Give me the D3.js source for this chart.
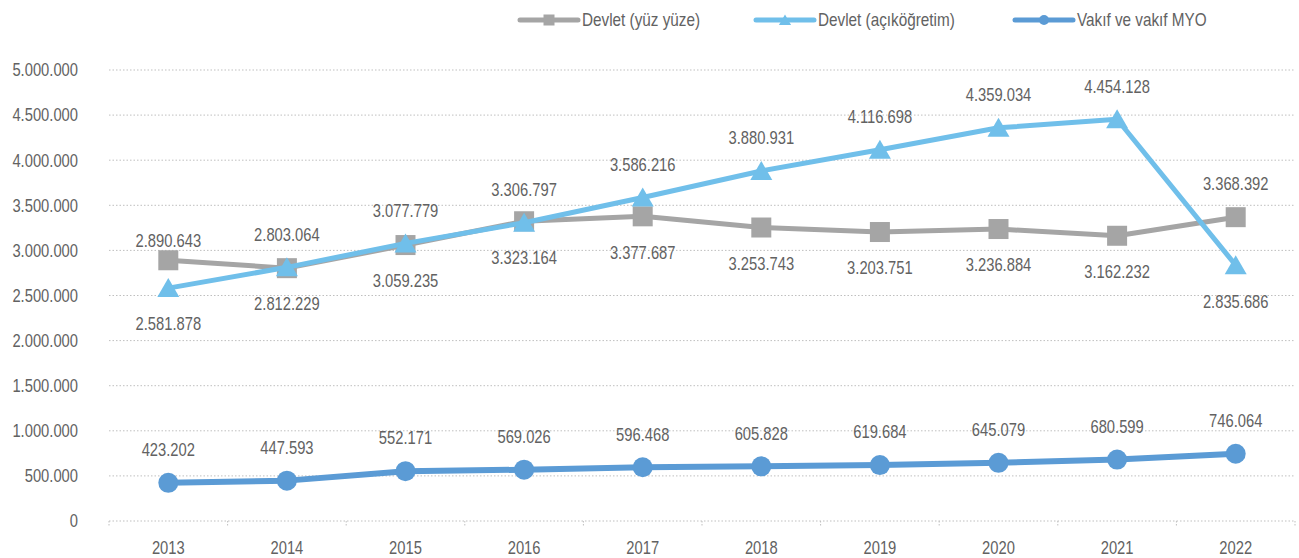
<!DOCTYPE html>
<html>
<head>
<meta charset="utf-8">
<script src="https://cdn.jsdelivr.net/npm/d3@7"></script>
<style>
  body { margin: 0; background: #fff; }
  svg text { font-family: "Liberation Sans", Arial, sans-serif; fill: #626262; }
</style>
</head>
<body>
<div id="chart"></div>
<script>
// données
var years = ["2013", "2014", "2015", "2016", "2017", "2018", "2019", "2020", "2021", "2022"];
var yuzYuze = [2890643, 2803064, 3059235, 3323164, 3377687, 3253743, 3203751, 3236884, 3162232, 3368392];
var acikogretim = [2581878, 2812229, 3077779, 3306797, 3586216, 3880931, 4116698, 4359034, 4454128, 2835686];
var vakif = [423202, 447593, 552171, 569026, 596468, 605828, 619684, 645079, 680599, 746064];
var yTicks = [0, 500000, 1000000, 1500000, 2000000, 2500000, 3000000, 3500000, 4000000, 4500000, 5000000];

// placement des étiquettes (t = au-dessus, n = au-dessus proche, b = en dessous)
var sideYuz = ["n", "t", "b", "b", "b", "b", "b", "b", "b", "t"];
var sideAcik = ["b", "b", "t", "t", "t", "t", "t", "t", "t", "b"];
var sideVakif = ["t", "t", "t", "t", "t", "t", "t", "t", "t", "t"];

var series = [
  { name: "Devlet (yüz yüze)", values: yuzYuze, side: sideYuz, color: "#a5a5a5", width: 5, marker: "square", lx: 520 },
  { name: "Devlet (açıköğretim)", values: acikogretim, side: sideAcik, color: "#70bfea", width: 5, marker: "triangle", lx: 756 },
  { name: "Vakıf ve vakıf MYO", values: vakif, side: sideVakif, color: "#5b9bd5", width: 6, marker: "circle", lx: 1015 }
];

var W = 1299, H = 558;
var NARROW = 0.82; // police étroite simulée
var FS = 18;
var svg = d3.select("#chart").append("svg")
    .attr("width", W)
    .attr("height", H);

var x = d3.scaleBand().domain(years).range([109, 1295]);
var y = d3.scaleLinear().domain([0, 5000000]).range([521, 70]);

var fmt = function(v) { return d3.format(",")(v).replace(/,/g, "."); };

// texte condensé : translate puis scale horizontal
function narrowText(sel, fx, fy, size, anchor) {
  return sel.append("text")
    .attr("transform", function(d, i) { return "translate(" + fx(d, i) + "," + fy(d, i) + ") scale(" + NARROW + ",1)"; })
    .attr("dy", "0.35em")
    .attr("text-anchor", anchor)
    .style("font-size", size + "px");
}

// grille pointillée
svg.append("g").selectAll("line")
    .data(yTicks)
    .enter().append("line")
    .attr("x1", 109).attr("x2", 1295)
    .attr("y1", function(d) { return y(d); })
    .attr("y2", function(d) { return y(d); })
    .attr("stroke", "#bfbfbf")
    .attr("stroke-width", 1)
    .attr("stroke-dasharray", "1.5,2");

// étiquettes de l'axe Y
narrowText(svg.append("g").selectAll("g").data(yTicks).enter(),
    function() { return 78; }, function(d) { return y(d); }, FS, "end")
  .text(function(d) { return fmt(d); });

// graduations de l'axe X
var bounds = years.map(function(d) { return x(d); }).concat([x.range()[1]]);
svg.append("g").selectAll("line")
    .data(bounds)
    .enter().append("line")
    .attr("x1", function(d) { return d; }).attr("x2", function(d) { return d; })
    .attr("y1", 521).attr("y2", 527)
    .attr("stroke", "#bfbfbf")
    .attr("stroke-dasharray", "1.5,1.5");

narrowText(svg.append("g").selectAll("g").data(years).enter(),
    function(d) { return x(d) + x.bandwidth() / 2; }, function() { return 548; }, FS, "middle")
  .text(function(d) { return d; });

var cx = function(i) { return x(years[i]) + x.bandwidth() / 2; };

function drawMarker(g, type, px, py, color, big) {
  if (type === "square") {
    var s = big ? 20 : 11;
    g.append("rect").attr("x", px - s / 2).attr("y", py - s / 2)
      .attr("width", s).attr("height", s).attr("fill", color);
  } else if (type === "triangle") {
    var t = big ? 20 : 11;
    g.append("path")
      .attr("d", "M" + px + "," + (py - t * 0.5) + "L" + (px + t * 0.55) + "," + (py + t * 0.45) + "L" + (px - t * 0.55) + "," + (py + t * 0.45) + "Z")
      .attr("fill", color);
  } else {
    g.append("circle").attr("cx", px).attr("cy", py).attr("r", big ? 10 : 5).attr("fill", color);
  }
}

var line = d3.line()
    .x(function(d, i) { return cx(i); })
    .y(function(d) { return y(d); });

series.forEach(function(s) {
  var g = svg.append("g");
  g.append("path")
    .attr("d", line(s.values))
    .attr("fill", "none")
    .attr("stroke", s.color)
    .attr("stroke-width", s.width)
    .attr("stroke-linejoin", "round")
    .attr("stroke-linecap", "round");
  s.values.forEach(function(v, i) {
    drawMarker(g, s.marker, cx(i), y(v), s.color, true);
  });
});

// étiquettes de données par-dessus
var offs = { t: -33, n: -20, b: 36 };
series.forEach(function(s) {
  narrowText(svg.append("g").selectAll("g").data(s.values).enter(),
      function(d, i) { return cx(i); },
      function(d, i) { return y(d) + offs[s.side[i]]; }, FS, "middle")
    .text(function(d) { return fmt(d); });
});

// légende
series.forEach(function(s) {
  var g = svg.append("g");
  g.append("line")
    .attr("x1", s.lx).attr("x2", s.lx + 58)
    .attr("y1", 20).attr("y2", 20)
    .attr("stroke", s.color)
    .attr("stroke-width", 5)
    .attr("stroke-linecap", "round");
  drawMarker(g, s.marker, s.lx + 29, 20, s.color, false);
  g.append("text")
    .attr("transform", "translate(" + (s.lx + 62) + ",20) scale(0.85,1)")
    .attr("dy", "0.35em")
    .style("font-size", "18px")
    .text(s.name);
});
</script>
</body>
</html>
